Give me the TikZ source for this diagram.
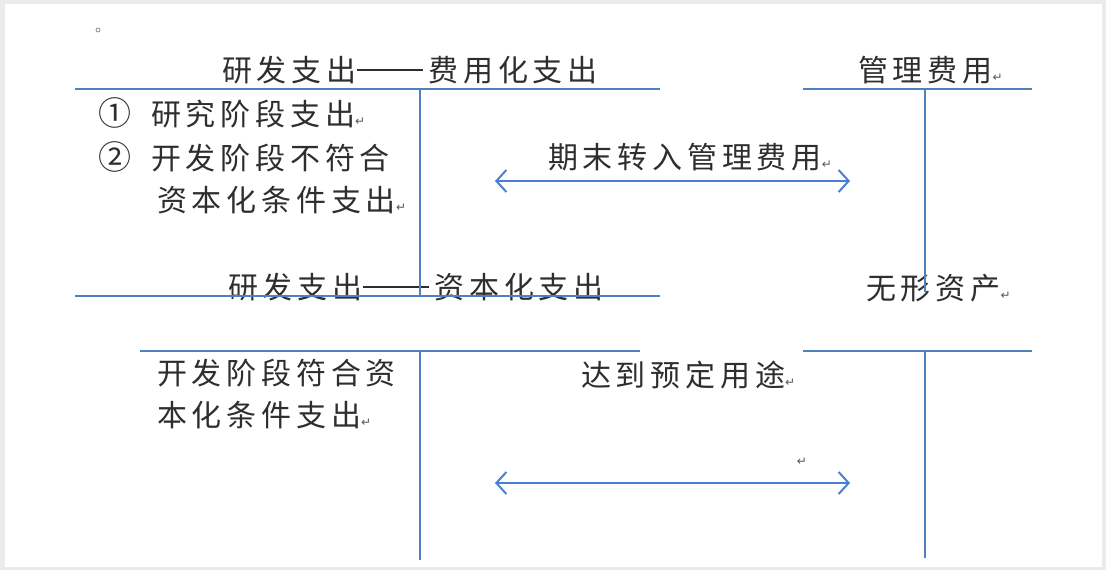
\documentclass[tikz,border=0pt]{standalone}
\usepackage{fontspec}
\newfontfamily\cjk[LetterSpace=16]{Noto Sans CJK SC}
\newfontfamily\symf{DejaVu Sans}
\usetikzlibrary{arrows.meta,positioning}
\definecolor{tline}{HTML}{4F81BD}
\definecolor{tarrow}{HTML}{4A7FD4}
\definecolor{ink}{HTML}{2E2E2E}
\newcommand{\ret}{{\symf\fontsize{12}{12}\selectfont\color{ink!80}↵}}
\newcommand{\dashes}{\rule[0.36em]{2.2em}{0.06em}\hspace{0.2em}}
\newcommand{\circnum}[1]{{\fontsize{33}{36}\selectfont#1}\hspace{20pt}}

\begin{document}
\begin{tikzpicture}[x=1pt,y=-1pt,
	acct/.style={draw=tline,line width=1.4pt},
	label/.style={inner sep=0pt,text=ink,font=\cjk\fontsize{30}{36}\selectfont},
	item/.style={label,anchor=west,align=left},
	transfer/.style={draw=tarrow,line width=2pt,{Straight Barb[length=10pt,width=22pt]}-{Straight Barb[length=10pt,width=22pt]}}]
			\useasboundingbox (0,0) rectangle (1106,570);
			\fill [black!8] (0,0) rectangle (1106,570);
			\fill [white] (5,4) rectangle (1102,567);
			\draw [ink!70,line width=0.6pt] (98,30) circle (2);
			\coordinate (feL) at (75,89);
			\coordinate (feR) at (660,89);
			\coordinate (feT) at (420,89);
			\coordinate (feB) at (420,296);
			\coordinate (glL) at (803,89);
			\coordinate (glR) at (1032,89);
			\coordinate (glT) at (925,89);
			\coordinate (glB) at (925,292);
			\coordinate (zbL) at (75,296);
			\coordinate (zbR) at (660,296);
			\coordinate (zkL) at (140,351);
			\coordinate (zkR) at (640,351);
			\coordinate (zkT) at (420,351);
			\coordinate (zkB) at (420,560);
			\coordinate (wxL) at (803,351);
			\coordinate (wxR) at (1032,351);
			\coordinate (wxT) at (925,351);
			\coordinate (wxB) at (925,558);
			\node [label,anchor=west] (feTitle) at (222,70) {研发支出\dashes 费用化支出};
			\node [label,anchor=west] (glTitle) at (858,70) {管理费用\ret};
			\node [item] (fe1) at (98,113) {\circnum{①}研究阶段支出\ret};
			\node [item] (fe2) at (98,157) {\circnum{②}开发阶段不符合};
			\node [item] (fe3) at (157,200) {资本化条件支出\ret};
			\node [label,anchor=west] (toGl) at (548,157) {期末转入管理费用\ret};
			\node [label,anchor=west] (zbTitle) at (228,287) {研发支出\dashes 资本化支出};
			\node [label,anchor=west] (wxTitle) at (866,288) {无形资产\ret};
			\node [item] (zb1) at (157,373) {开发阶段符合资};
			\node [item] (zb2) at (157,415) {本化条件支出\ret};
			\node [label,anchor=west] (toWx) at (581,375) {达到预定用途\ret};
			\node [inner sep=0pt] (blank) at (802,462) {\ret};
			\coordinate (a1L) at (495,181);
			\coordinate (a1R) at (850,181);
			\coordinate (a2L) at (495,483);
			\coordinate (a2R) at (850,483);
			\draw [acct] (feL) -- (feR);
			\draw [acct] (feT) -- (feB);
			\draw [acct] (glL) -- (glR);
			\draw [acct] (glT) -- (glB);
			\draw [acct] (zbL) -- (zbR);
			\draw [acct] (zkL) -- (zkR);
			\draw [acct] (zkT) -- (zkB);
			\draw [acct] (wxL) -- (wxR);
			\draw [acct] (wxT) -- (wxB);
			\draw [transfer] (a1L) -- (a1R);
			\draw [transfer] (a2L) -- (a2R);
\end{tikzpicture}
\end{document}
